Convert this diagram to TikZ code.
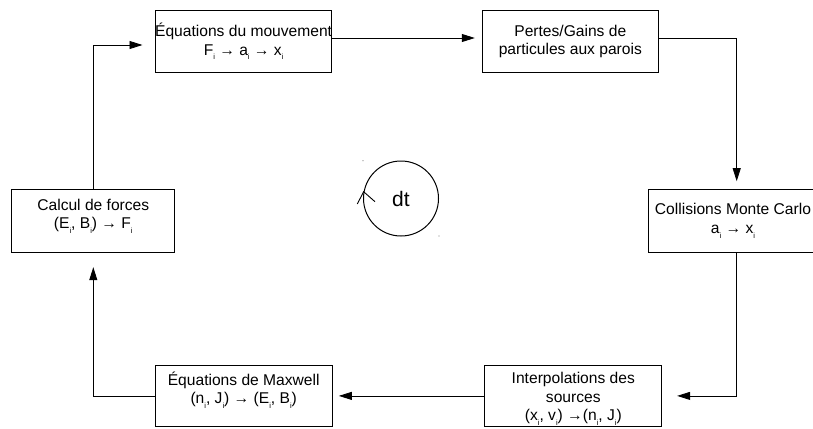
\documentclass[tikz,border=0pt]{standalone}
\usepackage{fontspec}
\setmainfont{Liberation Sans}
\usetikzlibrary{arrows.meta,calc}
\newcommand\ssb[1]{\raisebox{-0.6ex}{\fontsize{7.5}{7.5}\selectfont #1}}
\begin{document}
\begin{tikzpicture}[x=1pt,y=-1pt,
  box/.style={draw,line width=1pt,rectangle,inner sep=0pt},
  txt/.style={align=center,font=\fontsize{15.6}{18.5}\selectfont,inner sep=0pt},
  arr/.style={line width=0.8pt,-{Triangle[length=13pt,width=8pt]}}]
\useasboundingbox (0,0) rectangle (813,428);
% boxes
\node[box,minimum width=176.2,minimum height=62.7] (mouv) at (243.6,41.4) {};
\node[box,minimum width=176,minimum height=62.7] (pertes) at (570.3,41.4) {};
\node[box,minimum width=176.7,minimum height=63] (coll) at (736.7,220.8) {};
\node[box,minimum width=163.3,minimum height=63] (calc) at (93.3,220.8) {};
\node[box,minimum width=176.7,minimum height=61.7] (interp) at (573.3,395.9) {};
\node[box,minimum width=177.3,minimum height=61.7] (maxw) at (243.7,395.9) {};
% texts
\node[txt] (tmouv) at (243.6,41.5) {Équations du mouvement\\F\ssb{i} → a\ssb{i} → x\ssb{i}};
\node[txt] (tpertes) at (570.3,41.5) {Pertes/Gains de\\particules aux parois};
\node[txt] (tcoll) at (733,221) {Collisions Monte Carlo\\a\ssb{i} → x\ssb{i}};
\node[txt] (tcalc) at (93.3,216.5) {Calcul de forces\\(E\ssb{i}, B\ssb{i}) → F\ssb{i}};
\node[txt] (tinterp) at (573.3,399) {Interpolations des\\sources\\(x\ssb{i}, v\ssb{i}) →(n\ssb{i}, J\ssb{i})};
\node[txt] (tmaxw) at (243.7,390) {Équations de Maxwell\\(n\ssb{i}, J\ssb{i}) → (E\ssb{i}, B\ssb{i})};
% connectors
\draw[arr,shorten >=12.5pt] (calc.north) |- ($(mouv.west)+(0,3.6)$);
\draw[arr,shorten >=7pt] ($(mouv.east)+(0,-3.4)$) -- ($(pertes.west)+(0,-3.4)$);
\draw[arr,shorten >=7.6pt] ($(pertes.east)+(0,-3.4)$) -| (coll.north);
\draw[arr,shorten >=15pt] (coll.south) |- (interp.east);
\draw[arr,shorten >=6pt] (interp.west) -- (maxw.east);
\draw[arr,shorten >=14.4pt] (maxw.west) -| (calc.south);
% cycle symbol
\node[draw,circle,line width=1pt,minimum size=75pt,inner sep=0pt,font=\fontsize{21}{21}\selectfont] (dt) at (401,198.5) {dt};
\draw[line width=0.9pt] (357.3,204) -- (363.6,191.7) -- (375,201.7);
\fill[gray] (363,160.7) circle (0.6);
\fill[gray] (439,236) circle (0.6);
\end{tikzpicture}
\end{document}
